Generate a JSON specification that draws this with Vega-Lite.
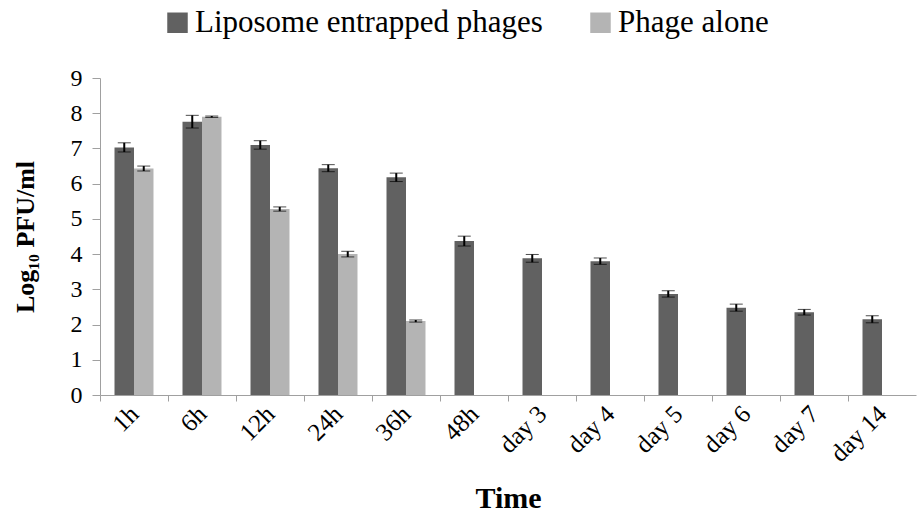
{
  "$schema": "https://vega.github.io/schema/vega-lite/v6.json",
  "width": 816,
  "height": 317,
  "autosize": {"type": "none"},
  "padding": {"left": 100, "top": 78, "right": 1, "bottom": 122},
  "background": "white",
  "config": {
    "view": {"stroke": null},
    "font": "Liberation Serif",
    "axis": {"labelFont": "Liberation Serif", "titleFont": "Liberation Serif", "labelColor": "black", "titleColor": "black", "domainColor": "#a0a0a0", "tickColor": "#a0a0a0", "grid": false}
  },
  "data": {
    "values": [
      {"time": "1h", "series": "Liposome entrapped phages", "value": 7.03, "err": 0.13},
      {"time": "1h", "series": "Phage alone", "value": 6.43, "err": 0.07},
      {"time": "6h", "series": "Liposome entrapped phages", "value": 7.76, "err": 0.18},
      {"time": "6h", "series": "Phage alone", "value": 7.90, "err": 0.02},
      {"time": "12h", "series": "Liposome entrapped phages", "value": 7.10, "err": 0.12},
      {"time": "12h", "series": "Phage alone", "value": 5.28, "err": 0.06},
      {"time": "24h", "series": "Liposome entrapped phages", "value": 6.44, "err": 0.10},
      {"time": "24h", "series": "Phage alone", "value": 4.00, "err": 0.08},
      {"time": "36h", "series": "Liposome entrapped phages", "value": 6.18, "err": 0.12},
      {"time": "36h", "series": "Phage alone", "value": 2.10, "err": 0.03},
      {"time": "48h", "series": "Liposome entrapped phages", "value": 4.37, "err": 0.14},
      {"time": "day 3", "series": "Liposome entrapped phages", "value": 3.88, "err": 0.11},
      {"time": "day 4", "series": "Liposome entrapped phages", "value": 3.80, "err": 0.09},
      {"time": "day 5", "series": "Liposome entrapped phages", "value": 2.87, "err": 0.09},
      {"time": "day 6", "series": "Liposome entrapped phages", "value": 2.48, "err": 0.10},
      {"time": "day 7", "series": "Liposome entrapped phages", "value": 2.35, "err": 0.08},
      {"time": "day 14", "series": "Liposome entrapped phages", "value": 2.15, "err": 0.10}
    ]
  },
  "encoding": {
    "x": {
      "field": "time", "type": "nominal",
      "sort": ["1h", "6h", "12h", "24h", "36h", "48h", "day 3", "day 4", "day 5", "day 6", "day 7", "day 14"],
      "scale": {"paddingInner": 0, "paddingOuter": 0},
      "axis": {"title": "Time", "titleFontSize": 30, "titleFontWeight": "bold", "titlePadding": 17, "labelFontSize": 25, "labelAngle": -45, "bandPosition": 0, "labelOffset": -8, "tickSize": 6, "labelPadding": 0}
    },
    "xOffset": {
      "field": "series", "type": "nominal",
      "scale": {"domain": ["Liposome entrapped phages", "Phage alone"], "paddingInner": 0, "paddingOuter": 0.744}
    },
    "y": {
      "field": "value", "type": "quantitative",
      "scale": {"domain": [0, 9]},
      "axis": {"title": "Log₁₀ PFU/ml", "titleFontSize": 26, "titleFontWeight": "bold", "titlePadding": 32, "labelFontSize": 24, "values": [0,1,2,3,4,5,6,7,8,9], "tickSize": 8, "labelPadding": 10}
    }
  },
  "layer": [
    {
      "mark": {"type": "bar"},
      "encoding": {
        "color": {
          "field": "series", "type": "nominal",
          "scale": {"domain": ["Liposome entrapped phages", "Phage alone"], "range": ["#616161", "#b4b4b4"]},
          "legend": {"title": null, "orient": "none", "direction": "horizontal", "legendX": 62, "legendY": -71, "symbolType": "square", "symbolSize": 420, "symbolStrokeWidth": 0, "labelFontSize": 31, "labelFont": "Liberation Serif", "labelColor": "black", "labelLimit": 0, "columnPadding": 42, "labelOffset": 2, "padding": 0}
        }
      }
    },
    {
      "mark": {"type": "errorbar", "ticks": {"size": 13, "color": "black", "strokeWidth": 2}, "rule": {"color": "black", "strokeWidth": 2}},
      "encoding": {
        "yError": {"field": "err"}
      }
    }
  ]
}
